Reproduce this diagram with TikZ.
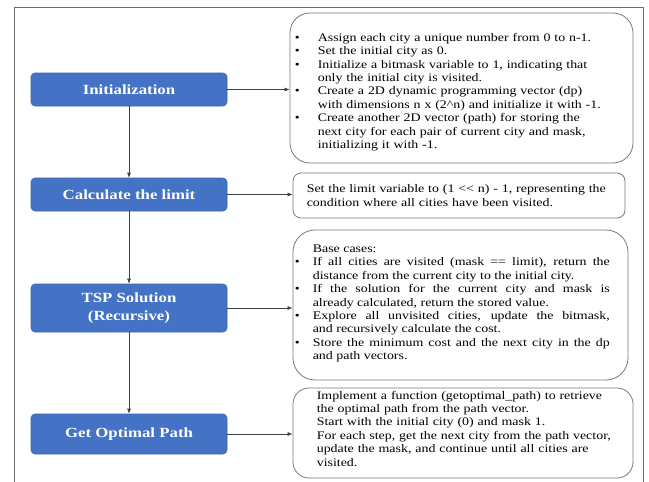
\documentclass[tikz,border=0pt]{standalone}
\usepackage{fontspec}
\setmainfont{Liberation Serif}[FakeStretch=1.2]
\usetikzlibrary{arrows.meta}
\definecolor{bblue}{HTML}{4472C4}
\definecolor{bborder}{HTML}{3A64B0}
\definecolor{lgray}{HTML}{7A7A7A}
\definecolor{agray}{HTML}{404040}
\definecolor{fgray}{HTML}{6E6E6E}
\newcommand{\bitem}[3]{\par\noindent\hangindent=#2\hangafter=1\makebox[#2][l]{\hspace*{#1}\textbullet}#3\par}
\tikzset{
  bluebox/.style={fill=bblue, draw=bborder, line width=0.6pt, rounded corners=4pt, text=white,
    font=\fontsize{14}{18}\selectfont\bfseries, minimum width=196pt, align=center, inner sep=0pt},
  rbox/.style={draw=lgray, line width=0.8pt, fill=white, inner sep=0pt},
  btext/.style={font=\fontsize{11.6}{13.4}\selectfont, inner sep=0pt, anchor=west, align=left},
  arr/.style={draw=agray, line width=0.6pt, -{Latex[length=5pt,width=4pt]}},
  frame/.style={draw=fgray, line width=1pt}
}
\begin{document}
\begin{tikzpicture}[x=1pt,y=-1pt]
\useasboundingbox (0,0) rectangle (649,482);
\draw[frame] (14,7) rectangle (643,500);

% left blue boxes
\node[bluebox, minimum height=33pt] (init) at (129,89.5) {Initialization};
\node[bluebox, minimum height=33pt] (calc) at (129,194.5) {Calculate the limit};
\node[bluebox, minimum height=48pt] (tsp) at (129,308) {TSP Solution\\(Recursive)};
\node[bluebox, minimum height=40pt] (getp) at (129,434) {Get Optimal Path};

% right boxes
\node[rbox, minimum width=343pt, minimum height=150pt, rounded corners=20pt] (r1) at (461.5,88) {};
\node[rbox, minimum width=332pt, minimum height=45pt, rounded corners=8pt] (r2) at (459,195.5) {};
\node[rbox, minimum width=335pt, minimum height=150pt, rounded corners=22pt] (r3) at (460.5,305) {};
\node[rbox, minimum width=340pt, minimum height=90pt, rounded corners=16pt] (r4) at (463,433) {};

\node[btext, text width=332pt] (t1) at ([xshift=4pt,yshift=-1.5pt]r1.west) {%
\bitem{1pt}{24pt}{Assign each city a unique number from 0 to n-1.}%
\bitem{1pt}{24pt}{Set the initial city as 0.}%
\bitem{1pt}{24pt}{Initialize a bitmask variable to 1, indicating that\newline only the initial city is visited.}%
\bitem{1pt}{24pt}{Create a 2D dynamic programming vector (dp)\newline with dimensions n x (2\textasciicircum n) and initialize it with -1.}%
\bitem{1pt}{24pt}{Create another 2D vector (path) for storing the\newline next city for each pair of current city and mask,\newline initializing it with -1.}};

\node[btext, text width=310pt, font=\fontsize{11.6}{14}\selectfont] (t2) at ([xshift=14pt]r2.west) {%
Set the limit variable to (1 \textless\kern0pt\textless\ n) - 1, representing the\\condition where all cities have been visited.};

\node[btext, text width=315pt, align=justify] (t3) at ([xshift=2pt,yshift=1.5pt]r3.west) {%
\noindent\hspace*{18pt}Base cases:\par
\bitem{0pt}{18pt}{If all cities are visited (mask == limit), return the\linebreak distance from the current city to the initial city.}%
\bitem{0pt}{18pt}{If the solution for the current city and mask is\linebreak already calculated, return the stored value.}%
\bitem{0pt}{18pt}{Explore all unvisited cities, update the bitmask,\linebreak and recursively calculate the cost.}%
\bitem{0pt}{18pt}{Store the minimum cost and the next city in the dp\linebreak and path vectors.}};

\node[btext, text width=310pt] (t4) at ([xshift=24pt,yshift=4.5pt]r4.west) {%
Implement a function (getoptimal\_path) to retrieve\\the optimal path from the path vector.\\Start with the initial city (0) and mask 1.\\For each step, get the next city from the path vector,\\update the mask, and continue until all cities are\\visited.};

% connectors
\draw[arr] (init) -- (calc);
\draw[arr] (calc) -- (tsp);
\draw[arr] (tsp) -- (getp);
\draw[arr] (init.east) -- (init.east -| r1.west);
\draw[arr] (calc.east) -- (calc.east -| r2.west);
\draw[arr] (tsp.east) -- (tsp.east -| r3.west);
\draw[arr] (getp.east) -- (getp.east -| r4.west);
\end{tikzpicture}
\end{document}
